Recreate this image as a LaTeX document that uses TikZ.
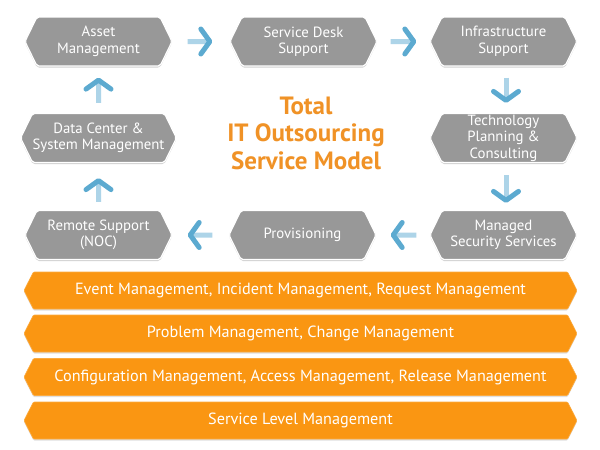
\documentclass[tikz,border=0pt]{standalone}
\usepackage{fontspec}
\setmainfont{PT Sans}
\usetikzlibrary{shapes.symbols,arrows.meta,shadows}

\definecolor{boxgray}{RGB}{152,152,152}
\definecolor{barorange}{RGB}{250,150,18}
\definecolor{titleorange}{RGB}{240,146,38}
\definecolor{arrowblue}{RGB}{92,170,208}

\tikzset{
  svc/.style={signal, signal to=west and east, signal pointer angle=128,
    minimum width=147pt, minimum height=49pt, inner sep=0pt,
    fill=boxgray, draw=white, line width=1.2pt, rounded corners=2pt,
    text=white, align=center, font=\fontsize{14.8}{16.5}\selectfont,
    drop shadow={shadow xshift=0pt, shadow yshift=-1.5pt, opacity=.3, fill=black!60}},
  layer/.style={signal, signal to=west and east, signal pointer angle=126,
    minimum width=553pt, minimum height=37pt, inner sep=0pt,
    fill=barorange, draw=barorange!80!white, line width=.6pt, rounded corners=1pt,
    text=white, font=\fontsize{16.2}{18}\selectfont,
    drop shadow={shadow xshift=0pt, shadow yshift=-1.5pt, opacity=.25, fill=black!50}},
  flow/.style={line width=5pt, arrowblue!50,
    -{Straight Barb[length=9pt, width=25pt, round, color=arrowblue]}},
}

\begin{document}
\begin{tikzpicture}[x=1pt, y=-1pt]
  \useasboundingbox[fill=white] (0,0) rectangle (600,450);

  % service boxes
  \node[svc] (asset) at (98.5,41.5) {Asset\\Management};
  \node[svc] (desk) at (303.5,41.5) {Service Desk\\Support};
  \node[svc] (infra) at (503.5,41.5) {Infrastructure\\Support};
  \node[svc] (tech) at (503.5,138) {Technology\\Planning \&\\Consulting};
  \node[svc] (sec) at (503.5,235) {Managed\\Security Services};
  \node[svc] (prov) at (302.5,235) {Provisioning};
  \node[svc] (remote) at (98.5,235) {Remote Support\\(NOC)};
  \node[svc] (dc) at (98.5,138) {Data Center \&\\System Management};

  % title
  \node[text=titleorange, align=center, font=\bfseries\fontsize{25}{27.5}\selectfont]
    (title) at (306,133) {Total\\IT Outsourcing\\Service Model};

  % process layers
  \node[layer] (l1) at (300.5,290.5) {Event Management, Incident Management, Request Management};
  \node[layer] (l2) at (300.5,333.5) {Problem Management, Change Management};
  \node[layer] (l3) at (300.5,377) {Configuration Management, Access Management, Release Management};
  \node[layer] (l4) at (300.5,420.5) {Service Level Management};

  % flow
  \draw[flow, shorten <=15pt, shorten >=17pt] (asset) -- (desk);
  \draw[flow, shorten <=13pt, shorten >=13pt] (desk) -- (infra);
  \draw[flow, shorten <=11pt, shorten >=10pt]
    ([xshift=2.5pt]infra.south) -- ([xshift=2.5pt]tech.north);
  \draw[flow, shorten <=12pt, shorten >=7pt]
    ([xshift=2.5pt]tech.south) -- ([xshift=2.5pt]sec.north);
  \draw[flow, shorten <=13pt, shorten >=14pt] (sec) -- (prov);
  \draw[flow, shorten <=16pt, shorten >=15pt] (prov) -- (remote);
  \draw[flow, shorten <=8pt, shorten >=15pt] (remote) -- (dc);
  \draw[flow, shorten <=10pt, shorten >=11pt] (dc) -- (asset);
\end{tikzpicture}
\end{document}
